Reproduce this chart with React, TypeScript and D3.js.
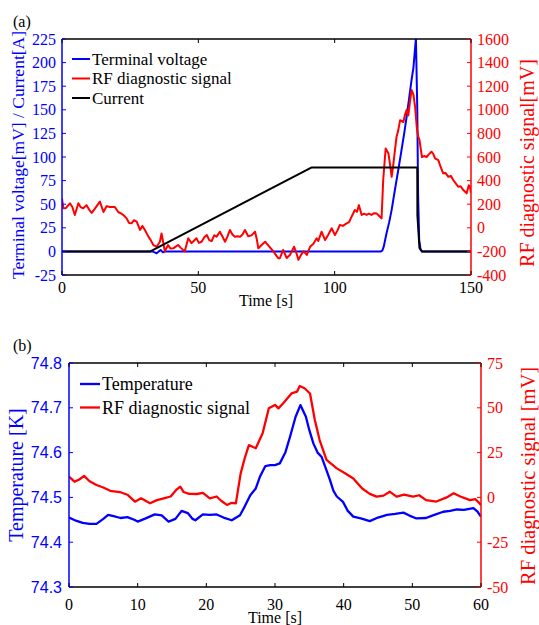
import React from 'react';
import * as d3 from 'd3';

// ---------- Panel (a) data ----------
const voltT = [0, 33, 34, 34.7, 35.5, 36.2, 37, 37.8, 117, 117.5, 118, 119, 120, 120.9, 121.8, 122.7, 123.6, 124.5, 125.5, 126.4, 127.3, 128.2, 128.9, 129.8, 130.3, 130.6, 131, 131.5, 132, 150];
const voltV = [0, 0, -1, -2, 0, 1.5, -1, 0, 0, 1, 5, 19, 31, 44, 60, 75.6, 91, 107, 125, 142.7, 162, 181.6, 195, 226, 150, 60, 12, 2, 0, 0];

const currT = [0, 32.4, 91.6, 130.3, 130.35, 131.1, 132, 150];
const currV = [0, 0, 89, 89, 38, 3.6, 0, 0];

const rfAT = [0, 0.5, 1.5, 2.9, 3.8, 4.7, 6, 6.8, 7.8, 9, 10, 10.9, 12, 13.9, 15.2, 16.4, 17.5, 19.4, 20.6, 21.8, 22.7, 23.7, 24.6, 25.5, 26.4, 27.4, 28.6, 29.5, 30.4, 31.7, 32.5, 33.5, 34.7, 35.9, 36.5, 37.1, 37.7, 38.9, 39.8, 40.8, 41.7, 42.6, 43.5, 44.4, 45, 46.3, 47.5, 48.3, 49.3, 50.2, 51.2, 52.2, 53.1, 54, 54.9, 55.8, 56.7, 57.9, 58.8, 59.8, 60.7, 61.6, 62.5, 63.4, 64.3, 65.3, 66.2, 67.1, 68.3, 69.5, 70.8, 71.5, 72, 73.2, 74.5, 75.5, 77.5, 78.5, 79.3, 79.9, 81.1, 82.4, 83.6, 85.1, 86, 86.7, 87.6, 88.6, 89.8, 91, 92.2, 93.4, 94, 95.2, 96.5, 97.7, 98.9, 100.1, 101, 101.9, 103, 104.4, 105.3, 106.2, 107.4, 108.2, 108.9, 109.9, 110.8, 111.7, 112.6, 113.5, 114.5, 115.4, 116.5, 117.2, 117.8, 118.7, 119.7, 120.4, 120.9, 121.5, 122.1, 122.7, 123.3, 124, 124.6, 125.2, 125.8, 126.4, 127, 127.6, 128.2, 128.9, 129.5, 130.1, 130.6, 131.1, 132, 132.8, 133.7, 134.6, 135.5, 136.2, 136.8, 138, 138.8, 139.8, 140.7, 141.7, 142.6, 143.5, 144.4, 145.3, 146.2, 147.2, 148.4, 149.2, 149.6, 150];
const rfAV = [248, 165, 168, 208, 176, 109, 208, 176, 165, 192, 152, 126, 160, 222, 134, 184, 176, 176, 134, 120, 104, 80, 40, 38, 64, 52, -18, 16, -18, -75, -104, -146, -160, -118, -48, -120, -200, -146, -176, -174, -160, -146, -168, -187, -200, -89, -130, -112, -89, -128, -118, -80, -61, -104, -112, -64, -75, -33, -72, -118, -72, -18, -56, -75, -72, -75, -56, -18, -72, -64, -33, -104, -174, -146, -118, -144, -200, -232, -258, -258, -188, -256, -230, -160, -216, -272, -232, -200, -230, -160, -136, -89, -112, -33, -104, -56, -4, -61, -24, 24, 16, 38, 48, 94, 151, 136, 192, 109, 120, 109, 120, 109, 124, 122, 96, 80, 405, 672, 632, 520, 432, 536, 656, 772, 824, 912, 904, 896, 960, 1000, 952, 1064, 1168, 1126, 1024, 856, 776, 744, 600, 608, 600, 624, 645, 624, 589, 574, 520, 462, 464, 432, 440, 405, 376, 348, 352, 320, 292, 360, 348, 296];

const aXTicks = [0, 50, 100, 150];
const aLeftTicks = [-25, 0, 25, 50, 75, 100, 125, 150, 175, 200, 225];
const aRightTicks = [-400, -200, 0, 200, 400, 600, 800, 1000, 1200, 1400, 1600];
const aLegend = ['Terminal voltage', 'RF diagnostic signal', 'Current'];

// ---------- Panel (b) data ----------
const tempT = [0, 1, 2, 3, 4, 5, 5.7, 6.5, 7.5, 8.5, 9.5, 10, 11, 12.5, 13.5, 14.5, 15.5, 16.4, 17.3, 18, 18.4, 19.5, 20.5, 21.5, 22.5, 23.7, 24.9, 25.6, 26.4, 27.2, 27.8, 28.6, 29.3, 30, 30.7, 31.5, 32.2, 33, 33.7, 34.5, 35, 35.6, 36.2, 36.8, 37.4, 38, 38.5, 39, 39.9, 40.6, 41.4, 42.5, 43.8, 45, 46.3, 47.5, 48.7, 49.5, 50.6, 52, 53, 54.5, 55.5, 56.5, 57.5, 58.9, 59.5, 60];
const tempV = [74.455, 74.448, 74.443, 74.441, 74.441, 74.452, 74.461, 74.458, 74.454, 74.456, 74.45, 74.446, 74.452, 74.462, 74.46, 74.446, 74.452, 74.47, 74.465, 74.452, 74.449, 74.462, 74.461, 74.462, 74.455, 74.449, 74.46, 74.48, 74.505, 74.52, 74.546, 74.57, 74.572, 74.572, 74.576, 74.6, 74.636, 74.68, 74.706, 74.68, 74.65, 74.62, 74.6, 74.59, 74.565, 74.539, 74.515, 74.502, 74.49, 74.47, 74.457, 74.453, 74.447, 74.455, 74.461, 74.463, 74.466, 74.46, 74.453, 74.454, 74.46, 74.468, 74.47, 74.473, 74.472, 74.476, 74.468, 74.457];

const rfBT = [0, 0.8, 1.5, 2.2, 3, 4, 5, 6, 7.4, 8.5, 9.6, 10.5, 11.8, 12.8, 13.8, 14.8, 15.7, 16.2, 16.7, 17.5, 18.6, 19.5, 20.5, 21.5, 22.2, 23, 23.7, 24.3, 25, 25.6, 26.2, 27.2, 28.2, 29.1, 30, 30.5, 31.2, 32.4, 33.2, 33.6, 34.3, 35.1, 35.8, 36.5, 37.5, 39, 40.2, 41.4, 42.7, 43.8, 44.8, 45.8, 46.7, 47.7, 48.8, 50.1, 51, 52, 53.5, 55, 56, 57, 58.4, 59.2, 60];
const rfBV = [11.6, 8.8, 10, 12, 9, 6.9, 5.5, 3.7, 3, 1.5, -2.4, -0.5, -3.3, -1.5, -0.5, 0.5, 4.5, 6, 3, 2, 1.9, 2.5, -0.5, 0.5, -2, -4.2, -3, -3.3, 13.4, 22, 29.2, 27.4, 35.8, 49.7, 51.6, 49.7, 52.5, 58, 59, 62.2, 60.9, 58, 43.2, 32, 20.9, 16.2, 13.5, 10.6, 5, 2, 0.4, 1, 3.2, 0.4, 1.5, 0.4, 1.2, -1.5, -2.3, 0, 2.3, 0.5, -1.5, -1, -4.2];

const bXTicks = [0, 10, 20, 30, 40, 50, 60];
const bLeftTicks = [74.3, 74.4, 74.5, 74.6, 74.7, 74.8];
const bRightTicks = [-50, -25, 0, 25, 50, 75];
const bLegend = ['Temperature', 'RF diagnostic signal'];

const BLUE = '#0000ff';
const RED = '#ff0000';
const BLACK = '#000000';
const SERIF = '"Liberation Serif", "Times New Roman", serif';
const SANS = '"Liberation Sans", Arial, sans-serif';

function zip(t: number[], v: number[]) {
  return t.map((x, i) => [x, v[i]] as [number, number]);
}

export default function App() {
  // Panel (a)
  const A = { l: 62, r: 471, t: 39, b: 275 };
  const xA = d3.scaleLinear().domain([0, 150]).range([A.l, A.r]);
  const yAL = d3.scaleLinear().domain([-25, 225]).range([A.b, A.t]);
  const yAR = d3.scaleLinear().domain([-400, 1600]).range([A.b, A.t]);
  const lineAL = d3.line<[number, number]>().x(d => xA(d[0])).y(d => yAL(d[1]));
  const lineAR = d3.line<[number, number]>().x(d => xA(d[0])).y(d => yAR(d[1]));

  // Panel (b)
  const B = { l: 69, r: 481, t: 363, b: 587 };
  const xB = d3.scaleLinear().domain([0, 60]).range([B.l, B.r]);
  const yBL = d3.scaleLinear().domain([74.3, 74.8]).range([B.b, B.t]);
  const yBR = d3.scaleLinear().domain([-50, 75]).range([B.b, B.t]);
  const lineBL = d3.line<[number, number]>().x(d => xB(d[0])).y(d => yBL(d[1]));
  const lineBR = d3.line<[number, number]>().x(d => xB(d[0])).y(d => yBR(d[1]));

  const tk = 4;

  return (
    <svg width={539} height={625} style={{ position: 'absolute', left: 0, top: 0, background: '#fff' }}>
      <defs>
        <clipPath id="clipA"><rect x={A.l} y={A.t} width={A.r - A.l} height={A.b - A.t} /></clipPath>
        <clipPath id="clipB"><rect x={B.l} y={B.t} width={B.r - B.l} height={B.b - B.t} /></clipPath>
      </defs>

      {/* ===== Panel (a) ===== */}
      <text x={13} y={27} fontFamily={SERIF} fontSize={16} fill="#000">(a)</text>
      <g clipPath="url(#clipA)" fill="none" strokeLinejoin="round">
        <path d={lineAL(zip(voltT, voltV)) || ''} stroke={BLUE} strokeWidth={2} />
        <path d={lineAR(zip(rfAT, rfAV)) || ''} stroke={RED} strokeWidth={2} />
        <path d={lineAL(zip(currT, currV)) || ''} stroke={BLACK} strokeWidth={2} />
      </g>
      {/* frame */}
      <line x1={A.l} x2={A.r} y1={A.t} y2={A.t} stroke={BLACK} strokeWidth={1.5} />
      <line x1={A.l} x2={A.r} y1={A.b} y2={A.b} stroke={BLACK} strokeWidth={1.5} />
      <line x1={A.l} x2={A.l} y1={A.t} y2={A.b} stroke={BLUE} strokeWidth={1.5} />
      <line x1={A.r} x2={A.r} y1={A.t} y2={A.b} stroke={RED} strokeWidth={1.5} />
      {aXTicks.map(v => (
        <g key={'ax' + v}>
          <line x1={xA(v)} x2={xA(v)} y1={A.b} y2={A.b - tk} stroke={BLACK} strokeWidth={1} />
          <line x1={xA(v)} x2={xA(v)} y1={A.t} y2={A.t + tk} stroke={BLACK} strokeWidth={1} />
          <text x={xA(v)} y={293} textAnchor="middle" fontFamily={SERIF} fontSize={16} fill="#000">{v}</text>
        </g>
      ))}
      {aLeftTicks.map(v => (
        <g key={'al' + v}>
          <line x1={A.l} x2={A.l + tk} y1={yAL(v)} y2={yAL(v)} stroke={BLUE} strokeWidth={1} />
          <text x={56} y={yAL(v)} dy="0.35em" textAnchor="end" fontFamily={SERIF} fontSize={16} fill={BLUE}>{v}</text>
        </g>
      ))}
      {aRightTicks.map(v => (
        <g key={'ar' + v}>
          <line x1={A.r} x2={A.r - tk} y1={yAR(v)} y2={yAR(v)} stroke={RED} strokeWidth={1} />
          <text x={477} y={yAR(v)} dy="0.35em" textAnchor="start" fontFamily={SERIF} fontSize={16} fill={RED}>{v}</text>
        </g>
      ))}
      <text x={266} y={306} textAnchor="middle" fontFamily={SERIF} fontSize={16} fill="#000">Time [s]</text>
      <text transform="translate(24,155) rotate(-90)" textAnchor="middle" fontFamily={SERIF} fontSize={17.5} fill={BLUE}>Terminal voltage[mV] / Current[A]</text>
      <text transform="translate(534,163) rotate(-90)" textAnchor="middle" fontFamily={SERIF} fontSize={20} fill={RED}>RF diagnostic signal[mV]</text>
      {aLegend.map((name, i) => {
        const y = 59 + i * 19.5;
        const c = [BLUE, RED, BLACK][i];
        return (
          <g key={'alg' + i}>
            <line x1={72} x2={90} y1={y} y2={y} stroke={c} strokeWidth={2} />
            <text x={92} y={y} dy="0.35em" fontFamily={SERIF} fontSize={17} fill="#000">{name}</text>
          </g>
        );
      })}

      {/* ===== Panel (b) ===== */}
      <text x={13} y={351} fontFamily={SERIF} fontSize={16} fill="#000">(b)</text>
      <g clipPath="url(#clipB)" fill="none" strokeLinejoin="round">
        <path d={lineBL(zip(tempT, tempV)) || ''} stroke={BLUE} strokeWidth={2.3} />
        <path d={lineBR(zip(rfBT, rfBV)) || ''} stroke={RED} strokeWidth={2.3} />
      </g>
      <line x1={B.l} x2={B.r} y1={B.t} y2={B.t} stroke={BLACK} strokeWidth={1.5} />
      <line x1={B.l} x2={B.r} y1={B.b} y2={B.b} stroke={BLACK} strokeWidth={1.5} />
      <line x1={B.l} x2={B.l} y1={B.t} y2={B.b} stroke={BLUE} strokeWidth={1.5} />
      <line x1={B.r} x2={B.r} y1={B.t} y2={B.b} stroke={RED} strokeWidth={1.5} />
      {bXTicks.map(v => (
        <g key={'bx' + v}>
          <line x1={xB(v)} x2={xB(v)} y1={B.b} y2={B.b - tk} stroke={BLACK} strokeWidth={1} />
          <line x1={xB(v)} x2={xB(v)} y1={B.t} y2={B.t + tk} stroke={BLACK} strokeWidth={1} />
          <text x={xB(v)} y={610} textAnchor="middle" fontFamily={SERIF} fontSize={16} fill="#000">{v}</text>
        </g>
      ))}
      {bLeftTicks.map(v => (
        <g key={'bl' + v}>
          <line x1={B.l} x2={B.l + tk} y1={yBL(v)} y2={yBL(v)} stroke={BLUE} strokeWidth={1} />
          <text x={62} y={yBL(v)} dy="0.35em" textAnchor="end" fontFamily={SANS} fontSize={16} fill={BLUE}>{v.toFixed(1)}</text>
        </g>
      ))}
      {bRightTicks.map(v => (
        <g key={'br' + v}>
          <line x1={B.r} x2={B.r - tk} y1={yBR(v)} y2={yBR(v)} stroke={RED} strokeWidth={1} />
          <text x={487} y={yBR(v)} dy="0.35em" textAnchor="start" fontFamily={SERIF} fontSize={16} fill={RED}>{v}</text>
        </g>
      ))}
      <text x={275} y={623} textAnchor="middle" fontFamily={SERIF} fontSize={16} fill="#000">Time [s]</text>
      <text transform="translate(23,475) rotate(-90)" textAnchor="middle" fontFamily={SERIF} fontSize={20} fill={BLUE}>Temperature [K]</text>
      <text transform="translate(535,476) rotate(-90)" textAnchor="middle" fontFamily={SERIF} fontSize={20.5} fill={RED}>RF diagnostic signal [mV]</text>
      {bLegend.map((name, i) => {
        const y = 384 + i * 23.5;
        const c = [BLUE, RED][i];
        return (
          <g key={'blg' + i}>
            <line x1={80} x2={100} y1={y} y2={y} stroke={c} strokeWidth={2.3} />
            <text x={102} y={y} dy="0.35em" fontFamily={SERIF} fontSize={18} fill="#000">{name}</text>
          </g>
        );
      })}
    </svg>
  );
}
